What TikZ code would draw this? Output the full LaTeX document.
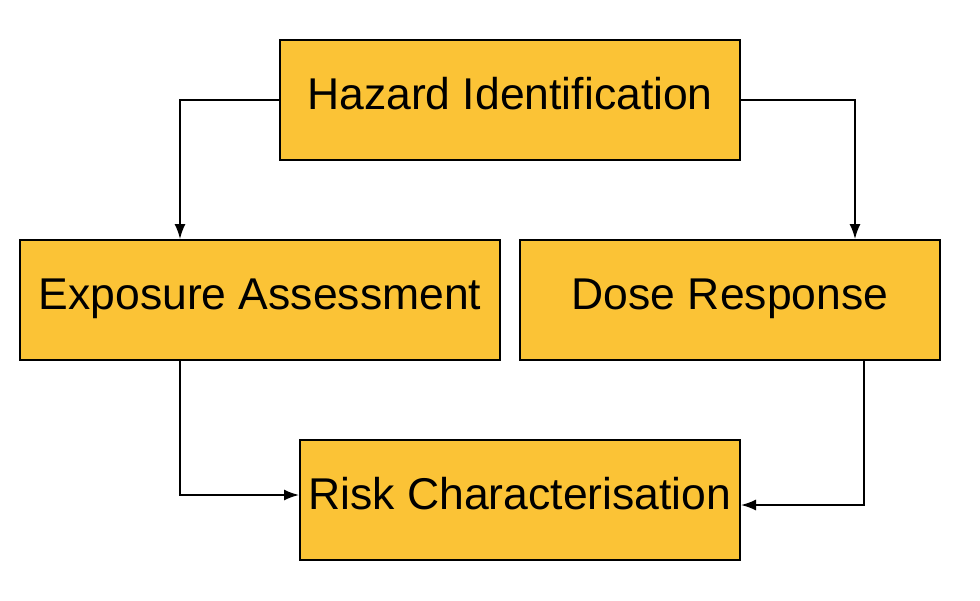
\documentclass[tikz,border=0pt]{standalone}
\usepackage{fontspec}
\setmainfont{Liberation Sans}
\usetikzlibrary{positioning}
\usetikzlibrary{arrows.meta}
\definecolor{stepColor}{HTML}{FBC336}

\begin{document}
\begin{tikzpicture}[x=1pt,y=-1pt]

          \tikzstyle{stageNode} = [draw=black, line width=2pt, fill=stepColor, minimum height=120pt, inner sep=0pt, text height=32pt, text depth=13pt, font=\fontsize{44.5}{50}\selectfont];
          \tikzstyle{flowEdge} = [line width=1.6pt, -{Latex[length=15pt,width=11pt]}];

          \useasboundingbox (0,0) rectangle (980,600);

          \node[stageNode, minimum width=460pt] (haz) at (510,100) {Hazard Identification};
          \node[stageNode, minimum width=480pt] (expo) at (260,300) {Exposure Assessment};
          \node[stageNode, minimum width=420pt] (dose) at (730,300) {Dose Response};
          \node[stageNode, minimum width=440pt] (risk) at (520,500) {Risk Characterisation};

          \draw[flowEdge] (haz.west) -| ([xshift=-80pt]expo.north);
          \draw[flowEdge] (haz.east) -| ([xshift=125pt]dose.north);
          \draw[flowEdge] ([xshift=-80pt]expo.south) |- ([yshift=5pt]risk.west);
          \draw[flowEdge] ([xshift=134pt]dose.south) |- ([yshift=-5pt]risk.east);
        \end{tikzpicture}
\end{document}
